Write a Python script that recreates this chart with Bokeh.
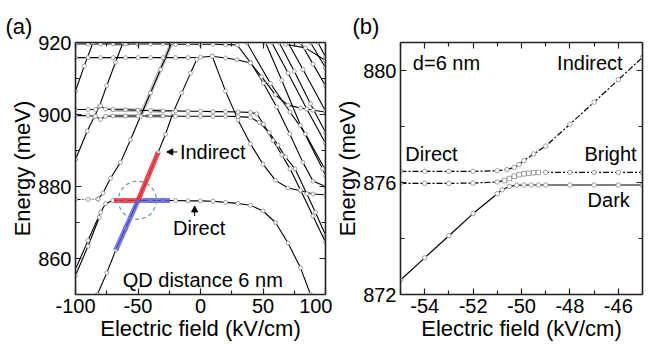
from bokeh.plotting import figure
from bokeh.layouts import row
from bokeh.models import Range1d, LinearAxis, FixedTicker, Label, Arrow, NormalHead
from bokeh.embed import file_html
from bokeh.resources import INLINE

FONT = "Liberation Sans"

# ---------------- panel (a) data ----------------
a_xticks = [-100, -50, 0, 50, 100]
a_xminor = [-75, -25, 25, 75]
a_xlabels = ["-100", "-50", "0", "50", "100"]
a_yticks = [860, 880, 900, 920]
a_yminor = [850, 870, 890, 910]
a_ylabels = ["860", "880", "900", "920"]

a_low_x = [-100, -90, -80, -76, -70, -60, -50, -40, -30, -20, -10, 0, 10, 20, 30, 40, 50, 60, 70, 80, 88]
a_low_y = [857, 865, 872.8, 875.2, 876.1, 876.1, 876.1, 876.1, 876.1, 876.1, 876.0, 876.0, 875.9, 875.6, 875.3, 874.8, 873.2, 870.0, 864.3, 857.4, 850]
a_low2_x = [-100, -90, -81]
a_low2_y = [855.3, 863.4, 871.4]
a_flat_x = [-100, -90, -82]
a_flat_y = [876.4, 876.4, 876.5]
a_up_x = [-82, -78, -72, -64, -56, -48, -40, -32, -23]
a_up_y = [876.5, 878.2, 882.3, 886.7, 893.0, 899.5, 906.0, 912.5, 920.0]
a_r0_x = [-100, -90.6, -85, -81, -75, -68, -62]
a_r0_y = [887.5, 895.4, 899.3, 902.2, 908.0, 914.5, 920.0]
a_rm_x = [-100, -93, -86]
a_rm_y = [906.5, 913.5, 920.0]
a_r2_x = [-82.5, -75, -67.7, -60, -50, -42, -34, -28, -22, -15, -8, -3]
a_r2_y = [850, 856, 862.4, 868.4, 876.1, 882.6, 889.4, 894.5, 900.5, 906.0, 911.5, 915.3]
a_leg_x = [9.4, 20, 30, 40, 50, 60, 70, 80, 90, 100]
a_leg_y = [916.2, 906.5, 898.5, 891.8, 886.2, 881.7, 879.6, 878.8, 877.9, 877.7]
a_f1_x = [-100, -90, -80, -70, -60, -50, -40, -30, -20, -10, 0, 10, 20, 29.4, 39.9, 50.4, 60.9, 71.4, 81.9, 90, 100]
a_f1_y = [919.6, 919.6, 919.6, 919.6, 919.6, 919.6, 919.6, 919.6, 919.5, 919.5, 919.5, 919.5, 919.4, 919.3, 914.5, 908.7, 902.1, 894.6, 886.7, 881.5, 880.0]
a_f2_x = [-100, -90, -80, -70, -60, -50, -40, -30, -20, -10, 0, 9.4, 20, 29, 40, 48.8, 59.8, 70, 80, 90, 100]
a_f2_y = [915.8, 915.8, 915.8, 915.8, 915.8, 915.8, 915.8, 915.8, 915.8, 915.8, 915.9, 916.2, 915.7, 915.2, 914.3, 910.5, 905.5, 902.6, 901.8, 901.2, 900.7]
a_f901_x = [-100, -90, -84, -80, -76, -70, -60, -50, -40, -30, -20, -10, 0, 10, 20, 30, 40, 45, 50.4, 58, 65, 71.6, 80, 90, 100]
a_f901_y = [901.4, 901.4, 901.4, 902.4, 901.5, 901.4, 901.3, 901.2, 901.1, 901.0, 901.0, 900.9, 900.9, 900.8, 900.8, 900.7, 900.6, 900.2, 897.3, 892.8, 888.8, 884.9, 879.0, 871.8, 864.5]
a_f899_x = [-100, -90, -84, -80, -76, -70, -60, -50, -40, -30, -20, -10, 0, 10, 20, 30, 40, 47, 55, 62, 68, 75.6, 85, 92, 100]
a_f899_y = [899.7, 899.7, 899.5, 898.6, 899.5, 899.6, 899.6, 899.6, 899.6, 899.6, 899.5, 899.5, 899.5, 899.5, 899.5, 899.4, 899.2, 897.8, 895.0, 891.5, 888.2, 884.9, 878.0, 872.8, 866.5]
a_g0_x = [37, 56, 71.6, 84, 100]
a_g0_y = [920, 908.6, 900.7, 894.6, 884.5]
a_g1_x = [52, 65, 80, 97.6, 100]
a_g1_y = [920, 909.5, 897, 884.9, 883]
a_g2_x = [57, 70, 85, 100]
a_g2_y = [920, 911.5, 901.5, 892]
a_g3_x = [63, 75, 88, 100]
a_g3_y = [920, 912, 903, 895]
a_g4_x = [70, 82, 100]
a_g4_y = [920, 912.5, 901]
a_g5_x = [80, 90, 100]
a_g5_y = [920, 914, 908]
a_g6_x = [88, 100]
a_g6_y = [920, 913]
a_g7_x = [68, 84, 100]
a_g7_y = [919.5, 918.5, 915]
a_g8_x = [94, 100]
a_g8_y = [920, 916]

# dense (closely sampled) stretches, drawn as a grey band
a_dense_x0 = [-72, -72, -44, -70, -48, -40]
a_dense_y0 = [901.3, 899.6, 899.6, 919.6, 899.5, 901.1]
a_dense_x1 = [-48, -48, -28, -57, -23, -30]
a_dense_y1 = [901.2, 899.6, 899.6, 919.6, 920.0, 901.0]

# highlighted crossing
a_red1_x = [-69.3, -50]
a_red1_y = [876.1, 876.1]
a_red2_x = [-50, -34]
a_red2_y = [876.1, 889.4]
a_blue1_x = [-50, -24.4]
a_blue1_y = [876.1, 876.1]
a_blue2_x = [-67.7, -50]
a_blue2_y = [862.4, 876.1]
a_ring_x = [-50.5]
a_ring_y = [876.2]

# ---------------- panel (b) data ----------------
b_xticks = [-54, -52, -50, -48, -46]
b_xminor = [-55, -53, -51, -49, -47, -45]
b_xlabels = ["-54", "-52", "-50", "-48", "-46"]
b_yticks = [872, 876, 880]
b_yminor = [874, 878]
b_ylabels = ["872", "876", "880"]

b_up_x = [-55, -54, -53, -52, -51, -50.6, -50.3, -50.1, -49.9, -49.5, -49, -48, -47, -46, -45]
b_up_y = [876.4, 876.4, 876.4, 876.4, 876.42, 876.46, 876.54, 876.64, 876.78, 877.02, 877.3, 878.08, 878.87, 879.67, 880.47]
b_mid_x = [-55, -54, -53, -52, -51, -50.7, -50.5, -50.3, -50.1, -49.9, -49.7, -49.5, -49.3, -49, -48, -47, -46, -45]
b_mid_y = [875.97, 875.97, 875.97, 875.98, 876.02, 876.07, 876.14, 876.22, 876.28, 876.31, 876.33, 876.35, 876.36, 876.36, 876.36, 876.36, 876.36, 876.36]
b_low_x = [-55, -54, -53, -52, -51, -50.8, -50.5, -50.2, -49.9, -49.6, -49.3, -49, -48, -47, -46, -45]
b_low_y = [872.52, 873.31, 874.1, 874.89, 875.6, 875.74, 875.86, 875.9, 875.91, 875.91, 875.91, 875.91, 875.91, 875.91, 875.91, 875.91]

AX = "#222222"


def make_fig(xr, yr, xt, xm, xl, yt, ym, yl, title, toff, mbl, mbr, fw):
    p = figure(frame_width=fw, frame_height=252, x_range=Range1d(*xr), y_range=Range1d(*yr),
               output_backend="svg", toolbar_location=None,
               min_border_left=mbl, min_border_right=mbr, min_border_top=42, min_border_bottom=52)
    p.xgrid.visible = False
    p.ygrid.visible = False
    p.outline_line_color = None
    p.background_fill_color = "white"
    p.border_fill_color = "white"
    p.title.text = title
    p.title.text_font = FONT
    p.title.text_font_size = "22px"
    p.title.text_font_style = "normal"
    p.title.text_color = "black"
    p.title.align = "left"
    p.title.offset = toff
    p.title.standoff = 8
    xt_ = FixedTicker(ticks=xt, minor_ticks=xm)
    yt_ = FixedTicker(ticks=yt, minor_ticks=ym)
    for ax, tk, lab, txt in ((p.xaxis[0], xt_, dict(zip(xt, xl)), "Electric field (kV/cm)"),
                             (p.yaxis[0], yt_, dict(zip(yt, yl)), "Energy (meV)")):
        ax.ticker = tk
        ax.major_label_overrides = lab
        ax.axis_label = txt
        ax.axis_label_text_font = FONT
        ax.axis_label_text_font_size = "22px"
        ax.axis_label_text_font_style = "normal"
        ax.axis_label_text_color = "black"
        ax.axis_label_standoff = 0
        ax.major_label_text_font = FONT
        ax.major_label_text_font_size = "20px"
        ax.major_label_text_color = "black"
        ax.major_label_standoff = 4
        ax.axis_line_color = AX
        ax.axis_line_width = 1.6
        ax.major_tick_in = 6
        ax.major_tick_out = 0
        ax.minor_tick_in = 4
        ax.minor_tick_out = 0
        ax.major_tick_line_color = AX
        ax.minor_tick_line_color = AX
        ax.major_tick_line_width = 1.2
        ax.minor_tick_line_width = 1.2
    for side, tk in (("above", xt_), ("right", yt_)):
        ax = LinearAxis(ticker=tk, major_label_text_font_size="0px", major_label_text_color=None,
                        major_label_standoff=0,
                        axis_line_color=AX, axis_line_width=1.6,
                        major_tick_in=6, major_tick_out=0, minor_tick_in=4, minor_tick_out=0,
                        major_tick_line_color=AX, minor_tick_line_color=AX,
                        major_tick_line_width=1.2, minor_tick_line_width=1.2)
        p.add_layout(ax, side)
    return p


def lbl(p, x, y, t, size="20px"):
    p.add_layout(Label(x=x, y=y, text=t, text_font=FONT, text_font_size=size,
                       text_baseline="middle", text_align="left", text_color="black"))


# ---------------- build panel (a) ----------------
pa = make_fig((-100, 100), (850, 920), a_xticks, a_xminor, a_xlabels, a_yticks, a_yminor, a_ylabels,
              "(a)", -70, 75, 7, 250)

pa.segment(a_dense_x0, a_dense_y0, a_dense_x1, a_dense_y1, line_color="#9a9a9a", line_width=4, line_alpha=0.6)

curves_a = [
    (a_low_x, a_low_y), (a_low2_x, a_low2_y), (a_up_x, a_up_y), (a_r0_x, a_r0_y),
    (a_rm_x, a_rm_y), (a_r2_x, a_r2_y), (a_leg_x, a_leg_y), (a_f1_x, a_f1_y), (a_f2_x, a_f2_y),
    (a_f901_x, a_f901_y), (a_f899_x, a_f899_y), (a_g0_x, a_g0_y), (a_g1_x, a_g1_y),
    (a_g2_x, a_g2_y), (a_g3_x, a_g3_y), (a_g4_x, a_g4_y), (a_g5_x, a_g5_y), (a_g6_x, a_g6_y),
    (a_g7_x, a_g7_y), (a_g8_x, a_g8_y),
]
for cx, cy in curves_a:
    pa.line(cx, cy, line_color="black", line_width=1.1)
pa.line(a_flat_x, a_flat_y, line_color="black", line_width=1.1, line_dash="5 2 1 2")
for cx, cy in curves_a + [(a_flat_x, a_flat_y)]:
    pa.scatter(cx, cy, marker="circle", size=4, line_color="#8a8a8a", line_width=0.8, fill_color="white")

pa.line(a_red1_x, a_red1_y, line_color="#e8333a", line_width=5, line_alpha=0.85)
pa.line(a_blue1_x, a_blue1_y, line_color="#5a5ae0", line_width=5, line_alpha=0.8)
pa.line(a_blue2_x, a_blue2_y, line_color="#5a5ae0", line_width=5, line_alpha=0.8)
pa.line(a_red2_x, a_red2_y, line_color="#e8333a", line_width=5, line_alpha=0.85)
pa.scatter(a_ring_x, a_ring_y, marker="circle", size=38, fill_color=None, line_color="#7090b8",
           line_dash="4 3", line_width=1.2)

lbl(pa, -16.5, 889.6, "Indirect")
lbl(pa, -22, 868.5, "Direct")
lbl(pa, -62.2, 854, "QD distance 6 nm")
pa.add_layout(Arrow(end=NormalHead(size=6, fill_color="black", line_color="black"),
                    x_start=-18.5, y_start=889.6, x_end=-27, y_end=889.6, line_width=1, line_color="black"))
pa.add_layout(Arrow(end=NormalHead(size=6, fill_color="black", line_color="black"),
                    x_start=-4.7, y_start=871.8, x_end=-4.7, y_end=874.6, line_width=1, line_color="black"))

# ---------------- build panel (b) ----------------
pb = make_fig((-55, -45), (872, 881), b_xticks, b_xminor, b_xlabels, b_yticks, b_yminor, b_ylabels,
              "(b)", -48, 65, 4, 242)

pb.line(b_low_x, b_low_y, line_color="black", line_width=1.2)
pb.line(b_up_x, b_up_y, line_color="black", line_width=1.2, line_dash="6 2 2 2")
pb.line(b_mid_x, b_mid_y, line_color="black", line_width=1.2, line_dash="6 2 2 2")

mk = dict(size=4.5, line_color="#8a8a8a", line_width=0.8, fill_color="white")
pb.scatter(b_low_x, b_low_y, marker="circle", **mk)
pb.scatter(b_up_x, b_up_y, marker="circle", **mk)
mid_int = [(x, y) for x, y in zip(b_mid_x, b_mid_y) if float(x).is_integer()]
mid_frac = [(x, y) for x, y in zip(b_mid_x, b_mid_y) if not float(x).is_integer()]
pb.scatter([m[0] for m in mid_int], [m[1] for m in mid_int], marker="circle", **mk)
pb.scatter([m[0] for m in mid_frac], [m[1] for m in mid_frac], marker="square", **mk)

lbl(pb, -54.49, 880.27, "d=6 nm")
lbl(pb, -48.53, 880.27, "Indirect")
lbl(pb, -54.8, 877.02, "Direct")
lbl(pb, -47.4, 877.02, "Bright")
lbl(pb, -47.27, 875.36, "Dark")

layout = row(pa, pb)
open("out.html", "w").write(file_html(layout, INLINE))
